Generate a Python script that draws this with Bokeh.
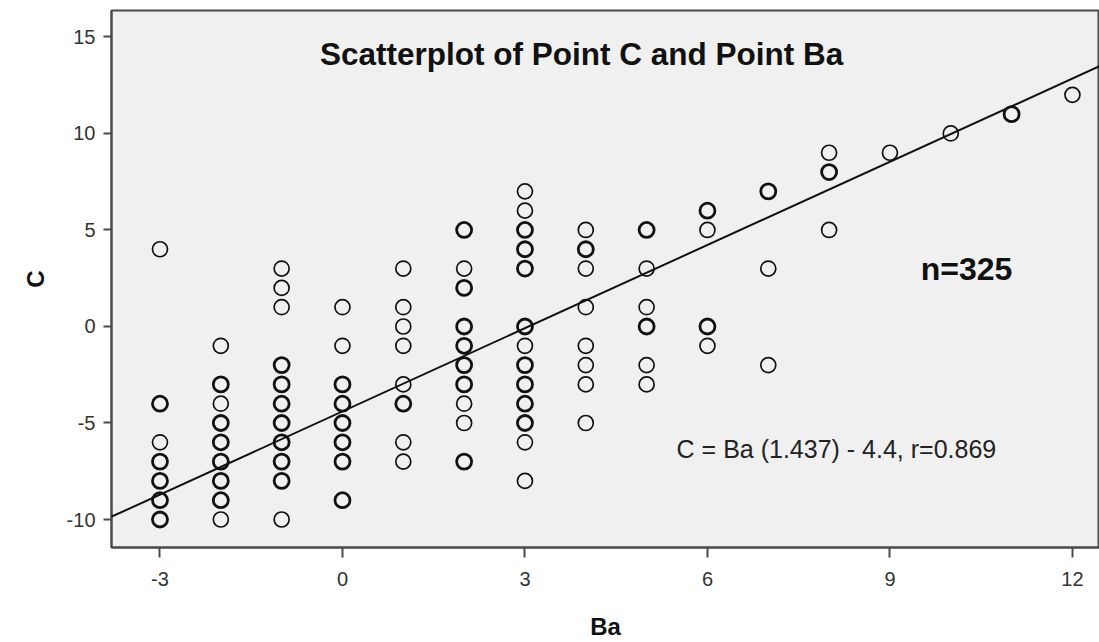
from bokeh.plotting import figure
from bokeh.models import (ColumnDataSource, Slope, Label, Range1d, FixedTicker,
                          CustomJSTickFormatter)
from bokeh.embed import file_html
from bokeh.resources import INLINE

# ---- data ----
ba = ([-3]*7 + [-2]*9 + [-1]*11 + [0]*8 + [1]*8 + [2]*10 + [3]*13 +
      [4]*8 + [5]*6 + [6]*4 + [7]*3 + [8]*3 + [9, 10, 11, 12])
c = ([4, -4, -6, -7, -8, -9, -10] +
     [-1, -3, -4, -5, -6, -7, -8, -9, -10] +
     [3, 2, 1, -2, -3, -4, -5, -6, -7, -8, -10] +
     [1, -1, -3, -4, -5, -6, -7, -9] +
     [3, 1, 0, -1, -3, -4, -6, -7] +
     [5, 3, 2, 0, -1, -2, -3, -4, -5, -7] +
     [7, 6, 5, 4, 3, 0, -1, -2, -3, -4, -5, -6, -8] +
     [5, 4, 3, 1, -1, -2, -3, -5] +
     [5, 3, 1, 0, -2, -3] +
     [6, 5, 0, -1] +
     [7, 3, -2] +
     [9, 8, 5] +
     [9, 10, 11, 12])
# 1 = several cases overlap at this point (drawn heavier), 0 = single case
overlap = ([0, 1, 0, 1, 1, 1, 1] +
           [0, 1, 0, 1, 1, 1, 1, 1, 0] +
           [0, 0, 0, 1, 1, 1, 1, 1, 1, 1, 0] +
           [0, 0, 1, 1, 1, 1, 1, 1] +
           [0, 0, 0, 0, 0, 1, 0, 0] +
           [1, 0, 1, 1, 1, 1, 1, 0, 0, 1] +
           [0, 0, 1, 1, 1, 1, 0, 1, 1, 1, 1, 0, 0] +
           [0, 1, 0, 0, 0, 0, 0, 0] +
           [1, 0, 0, 1, 0, 0] +
           [1, 0, 1, 0] +
           [1, 0, 0] +
           [0, 1, 0] +
           [0, 0, 1, 0])
slope_b = 1.437
intercept_a = -4.4
r_value = 0.869
n_cases = 325
x_ticks = [-3, 0, 3, 6, 9, 12]
y_ticks = [-10, -5, 0, 5, 10, 15]
title_text = "Scatterplot of Point C and Point Ba"
x_label = "Ba"
y_label = "C"

FONT = "Liberation Sans"

lw = [2.8 if m else 1.7 for m in overlap]
src = ColumnDataSource(dict(x=ba, y=c, lw=lw))

p = figure(width=1099, height=642, output_backend="svg", toolbar_location=None,
           x_range=Range1d(-3.797, 12.445), y_range=Range1d(-11.45, 16.37),
           min_border_left=111, min_border_top=10, min_border_bottom=95,
           min_border_right=0)
p.background_fill_color = "#f0f0f0"
p.border_fill_color = "white"
p.outline_line_color = "#4a4a4a"
p.outline_line_width = 2
p.grid.visible = False

for ax in (p.xaxis[0], p.yaxis[0]):
    ax.axis_line_color = "#4a4a4a"
    ax.axis_line_width = 2
    ax.major_tick_line_color = "#4a4a4a"
    ax.major_tick_line_width = 2
    ax.major_tick_in = 0
    ax.minor_tick_line_color = None
    ax.major_label_text_font = FONT
    ax.major_label_text_font_size = "20px"
    ax.major_label_text_color = "#333333"
    ax.axis_label_text_font = FONT
    ax.axis_label_text_font_style = "bold"
    ax.axis_label_text_font_size = "24px"
    ax.axis_label_text_color = "#111111"
    ax.formatter = CustomJSTickFormatter(code="return tick.toString();")

p.xaxis.ticker = FixedTicker(ticks=x_ticks)
p.yaxis.ticker = FixedTicker(ticks=y_ticks)
p.xaxis.major_tick_out = 10
p.yaxis.major_tick_out = 8
p.xaxis.major_label_standoff = 14
p.yaxis.major_label_standoff = 8
p.xaxis.axis_label = x_label
p.yaxis.axis_label = y_label
p.xaxis.axis_label_standoff = 24
p.yaxis.axis_label_standoff = 15

p.add_layout(Slope(gradient=slope_b, y_intercept=intercept_a,
                   line_color="#111111", line_width=2))

p.scatter("x", "y", source=src, marker="circle", size=15,
          fill_color=None, line_color="#111111", line_width="lw")

p.add_layout(Label(x=3.93, y=14.1, text=title_text, text_align="center",
                   text_baseline="middle", text_font=FONT, text_font_style="bold",
                   text_font_size="31.5px", text_color="#111111"))
p.add_layout(Label(x=10.26, y=3.0, text=f"n={n_cases}", text_align="center",
                   text_baseline="middle", text_font=FONT, text_font_style="bold",
                   text_font_size="32px", text_color="#111111"))
eq = f"C = Ba ({slope_b}) - {abs(intercept_a)}, r={r_value}"
p.add_layout(Label(x=8.12, y=-6.37, text=eq, text_align="center",
                   text_baseline="middle", text_font=FONT,
                   text_font_size="25px", text_color="#222222"))

open("out.html", "w").write(file_html(p, INLINE))
